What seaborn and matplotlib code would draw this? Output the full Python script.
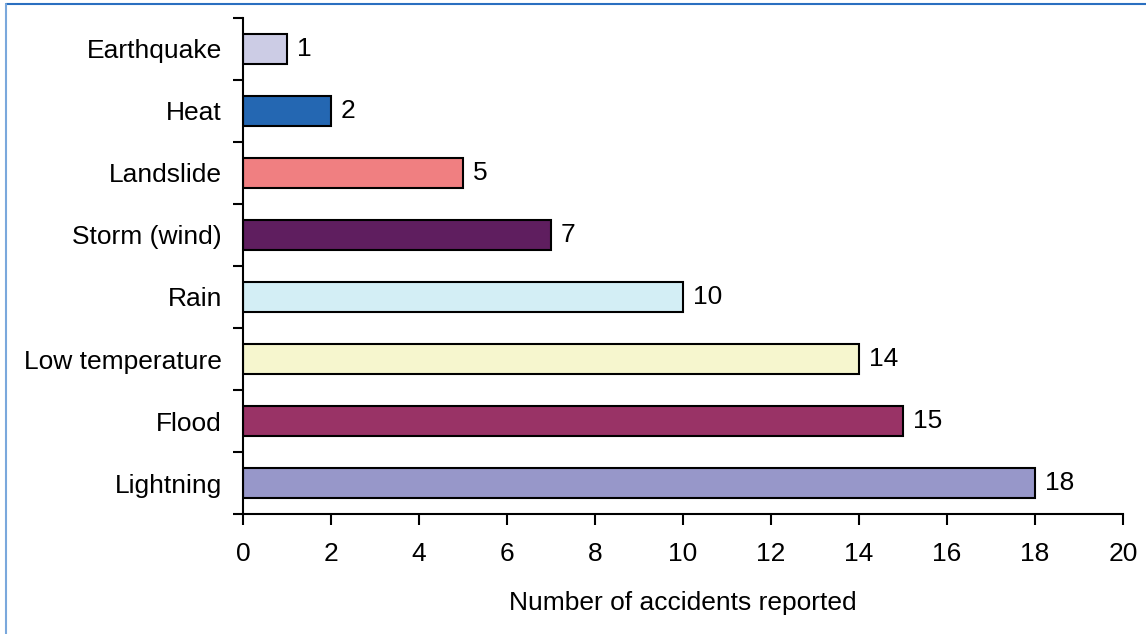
import numpy as np
import pandas as pd
import matplotlib.pyplot as plt
import seaborn as sns
from matplotlib.lines import Line2D
from matplotlib.ticker import MultipleLocator, FixedLocator

# Datos del grafico
causes = ['Earthquake', 'Heat', 'Landslide', 'Storm (wind)', 'Rain',
          'Low temperature', 'Flood', 'Lightning']
accidents = [1, 2, 5, 7, 10, 14, 15, 18]
bar_colors = ['#CCCCE5', '#2467B2', '#F07F81', '#5F1E5F', '#D3EEF5',
              '#F6F6CE', '#993366', '#9797C9']

sns.set_style('white')
plt.rcParams['font.family'] = ['Liberation Sans', 'DejaVu Sans']
plt.rcParams['text.color'] = 'black'
plt.rcParams['xtick.color'] = 'black'
plt.rcParams['ytick.color'] = 'black'
plt.rcParams['axes.labelcolor'] = 'black'

df = pd.DataFrame({'cause': causes, 'count': accidents})

fig = plt.figure(figsize=(11.46, 6.34), dpi=100)
ax = fig.add_axes([0.212, 0.189, 0.768, 0.783])

sns.barplot(data=df, x='count', y='cause', hue='cause', palette=bar_colors,
            order=causes, hue_order=causes, width=0.48, legend=False,
            edgecolor='black', linewidth=1.5, saturation=1, ax=ax)

# Etiquetas de valor
for i, v in enumerate(accidents):
    ax.text(v + 0.22, i, str(v), va='center', ha='left', fontsize=19, color='black')

ax.set_xlim(0, 20)
ax.set_ylim(len(causes) - 0.5, -0.5)
ax.xaxis.set_major_locator(MultipleLocator(2))
ax.yaxis.set_minor_locator(FixedLocator(np.arange(-0.5, len(causes), 1)))
ax.tick_params(axis='y', which='major', length=0, pad=15, labelsize=19, labelcolor='black')
ax.tick_params(axis='y', which='minor', length=7, width=1.5, color='black', left=True)
ax.tick_params(axis='x', which='major', length=8, width=1.5, color='black',
               bottom=True, pad=12, labelsize=19, labelcolor='black')

ax.set_ylabel('')
ax.set_xlabel('Number of accidents reported', fontsize=19, labelpad=18, color='black')

for s in ['top', 'right']:
    ax.spines[s].set_visible(False)
for s in ['left', 'bottom']:
    ax.spines[s].set_color('black')
    ax.spines[s].set_linewidth(1.5)

# Marco azul superior e izquierdo
fig.add_artist(Line2D([0.0052, 1], [0.9937, 0.9937], color='#2A6FC0', lw=1.5))
fig.add_artist(Line2D([0.0052, 0.0052], [0, 0.9937], color='#7AA8DC', lw=1.5))

plt.savefig('out.png', dpi=100)
